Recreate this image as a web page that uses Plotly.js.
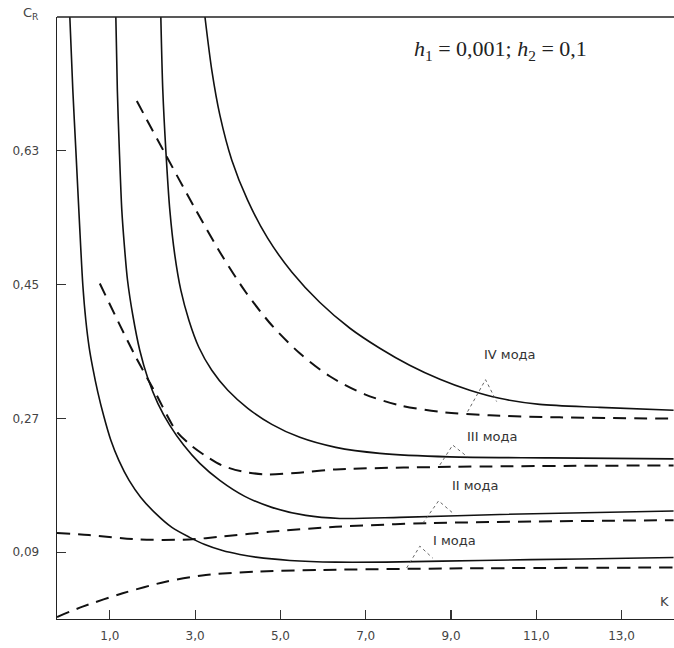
<!DOCTYPE html>
<html>
<head>
<meta charset="utf-8">
<script src="https://cdn.plot.ly/plotly-3.0.1.min.js"></script>
<style>
  html, body { margin: 0; padding: 0; background: #fff; }
  #chart { width: 674px; height: 648px; }
</style>
</head>
<body>
<div id="chart"></div>
<script>
// Phase velocity C_R versus wave number K, modes I–IV (h1 = 0,001; h2 = 0,1)
// Solid lines: first family of curves; dashed lines: second family.

const modeISolidK  = [0.061, 0.131, 0.202, 0.284, 0.366, 0.436, 0.514, 0.601, 0.718, 0.858, 1.023, 1.210, 1.451, 1.726, 2.078, 2.454, 2.858, 3.226, 3.641, 4.047, 4.422, 5.219, 6.298, 7.798, 9.674, 12.019, 14.22];
const modeISolidC  = [0.810, 0.7117, 0.6309, 0.5367, 0.4491, 0.4020, 0.3656, 0.3373, 0.3050, 0.2727, 0.2404, 0.2134, 0.1865, 0.1636, 0.1417, 0.1232, 0.1102, 0.1003, 0.0922, 0.0869, 0.0832, 0.0788, 0.0765, 0.0768, 0.0788, 0.0808, 0.0828];

const modeIISolidK = [1.140, 1.175, 1.222, 1.280, 1.339, 1.414, 1.538, 1.701, 1.890, 2.124, 2.406, 2.734, 3.109, 3.578, 4.164, 4.797, 5.595, 6.392, 7.798, 10.143, 14.22];
const modeIISolidC = [0.810, 0.7117, 0.6309, 0.5501, 0.5030, 0.4558, 0.4087, 0.3616, 0.3239, 0.2902, 0.2606, 0.2337, 0.2094, 0.1865, 0.1650, 0.1502, 0.1394, 0.1353, 0.1367, 0.1407, 0.1454];

const modeIIISolidK = [2.195, 2.241, 2.312, 2.406, 2.523, 2.664, 2.853, 3.086, 3.390, 3.766, 4.235, 4.798, 5.455, 6.299, 7.331, 8.972, 11.317, 14.22];
const modeIIISolidC = [0.810, 0.7117, 0.6309, 0.5501, 0.4895, 0.4424, 0.4020, 0.3656, 0.3346, 0.3077, 0.2835, 0.2619, 0.2444, 0.2309, 0.2229, 0.2182, 0.2168, 0.2155];

const modeIVSolidK = [3.23, 3.39, 3.58, 3.86, 4.23, 4.70, 5.27, 5.92, 6.63, 7.33, 8.03, 8.74, 9.44, 10.14, 11.08, 12.49, 14.22];
const modeIVSolidC = [0.810, 0.7386, 0.678, 0.6174, 0.5636, 0.5124, 0.4666, 0.4262, 0.3912, 0.3643, 0.3414, 0.3225, 0.3077, 0.2969, 0.2888, 0.2848, 0.2808];

const modeIDashK  = [-0.24, 0.36, 1.30, 2.31, 3.25, 4.42, 5.99, 8.97, 14.22];
const modeIDashC  = [0.0027, 0.0166, 0.0346, 0.0502, 0.0593, 0.0637, 0.066, 0.068, 0.0693];

const modeIIDashK = [-0.24, 0.51, 1.69, 2.86, 3.64, 4.81, 6.30, 8.50, 14.22];
const modeIIDashC = [0.1158, 0.113, 0.107, 0.107, 0.111, 0.1176, 0.124, 0.129, 0.133];

const modeIIIDashK = [0.764, 1.217, 1.608, 2.077, 2.546, 2.874, 3.226, 3.625, 4.094, 4.634, 5.361, 6.298, 8.972, 14.22];
const modeIIIDashC = [0.4514, 0.3975, 0.3525, 0.3033, 0.2538, 0.2350, 0.2202, 0.2067, 0.1986, 0.1946, 0.1966, 0.2013, 0.2047, 0.2067];

const modeIVDashK = [1.632, 2.288, 2.992, 3.625, 4.188, 4.797, 5.453, 6.157, 6.978, 7.798, 8.736, 9.909, 11.550, 14.22];
const modeIVDashC = [0.6969, 0.6269, 0.5528, 0.4895, 0.4397, 0.3952, 0.3575, 0.3266, 0.3023, 0.2875, 0.2788, 0.2740, 0.2713, 0.2696];

const xTickVals = [1, 3, 5, 7, 9, 11, 13];
const xTickText = ["1,0", "3,0", "5,0", "7,0", "9,0", "11,0", "13,0"];
const yTickVals = [0.09, 0.27, 0.45, 0.63];
const yTickText = ["0,09", "0,27", "0,45", "0,63"];

const modeNames = ["I мода", "II мода", "III мода", "IV мода"];

// Callout tents (K, C_R) linking each mode name to its pair of curves
const calloutK = [[7.96, 8.27, 8.57], [8.34, 8.71, 9.04], [8.74, 9.04, 9.39], [9.39, 9.81, 10.07]];
const calloutC = [[0.0687, 0.098, 0.082], [0.129, 0.159, 0.1427], [0.2074, 0.234, 0.218], [0.279, 0.322, 0.2926]];
const labelK = [9.09, 9.58, 9.96, 10.38];
const labelC = [0.106, 0.179, 0.246, 0.3555];

const solidLine = { color: "#111", width: 1.6, shape: "spline", smoothing: 0.8 };
const dashLine  = { color: "#111", width: 2, dash: "13px,8px", shape: "spline", smoothing: 0.8 };

function curve(x, y, line) {
  return { x: x, y: y, type: "scatter", mode: "lines", line: line, hoverinfo: "skip", showlegend: false };
}

const traces = [
  curve(modeISolidK, modeISolidC, solidLine),
  curve(modeIISolidK, modeIISolidC, solidLine),
  curve(modeIIISolidK, modeIIISolidC, solidLine),
  curve(modeIVSolidK, modeIVSolidC, solidLine),
  curve(modeIDashK, modeIDashC, dashLine),
  curve(modeIIDashK, modeIIDashC, dashLine),
  curve(modeIIIDashK, modeIIIDashC, dashLine),
  curve(modeIVDashK, modeIVDashC, dashLine)
];

calloutK.forEach(function (k, i) {
  traces.push({
    x: k, y: calloutC[i], type: "scatter", mode: "lines",
    line: { color: "#555", width: 0.9, dash: "dot" },
    hoverinfo: "skip", showlegend: false
  });
});

const annotations = modeNames.map(function (name, i) {
  return {
    x: labelK[i], y: labelC[i], xref: "x", yref: "y",
    xanchor: "center", yanchor: "middle",
    text: name, showarrow: false,
    font: { family: "DejaVu Sans", size: 13, color: "#333" }
  };
});

annotations.push(
  {
    xref: "paper", yref: "paper", x: 0.718, y: 0.945,
    xanchor: "center", yanchor: "middle",
    text: "<i>h</i><sub>1</sub> = 0,001; <i>h</i><sub>2</sub> = 0,1",
    showarrow: false,
    font: { family: "Liberation Serif", size: 22, color: "#222" }
  },
  {
    xref: "paper", yref: "paper", x: -0.042, y: 1.005, xanchor: "center", yanchor: "middle",
    text: "C<sub>R</sub>", showarrow: false,
    font: { family: "DejaVu Sans", size: 13, color: "#444" }
  },
  {
    xref: "paper", yref: "paper", x: 0.985, y: 0.0, xanchor: "center", yanchor: "bottom", yshift: 8,
    text: "K", showarrow: false,
    font: { family: "DejaVu Sans", size: 13, color: "#444" }
  }
);

const layout = {
  width: 674,
  height: 648,
  margin: { l: 57, r: 0, t: 17, b: 29 },
  paper_bgcolor: "#fff",
  plot_bgcolor: "#fff",
  showlegend: false,
  xaxis: {
    range: [-0.24, 14.23],
    tickvals: xTickVals, ticktext: xTickText,
    ticks: "inside", ticklen: 9, tickwidth: 1.2, tickcolor: "#333",
    showline: true, linecolor: "#222", linewidth: 1.4,
    showgrid: false, zeroline: false,
    ticklabelstandoff: 5,
    tickfont: { family: "DejaVu Sans", size: 12, color: "#444" }
  },
  yaxis: {
    range: [0, 0.81],
    tickvals: yTickVals, ticktext: yTickText,
    ticks: "inside", ticklen: 9, tickwidth: 1.2, tickcolor: "#333",
    showline: true, linecolor: "#222", linewidth: 1.4,
    showgrid: false, zeroline: false,
    ticklabelstandoff: 14,
    tickfont: { family: "DejaVu Sans", size: 12, color: "#444" }
  },
  shapes: [
    { type: "line", xref: "paper", yref: "paper", x0: 0, x1: 1, y0: 1, y1: 1,
      line: { color: "#222", width: 1.5 } }
  ],
  annotations: annotations
};

Plotly.newPlot("chart", traces, layout, { staticPlot: true, displayModeBar: false });
</script>
</body>
</html>
